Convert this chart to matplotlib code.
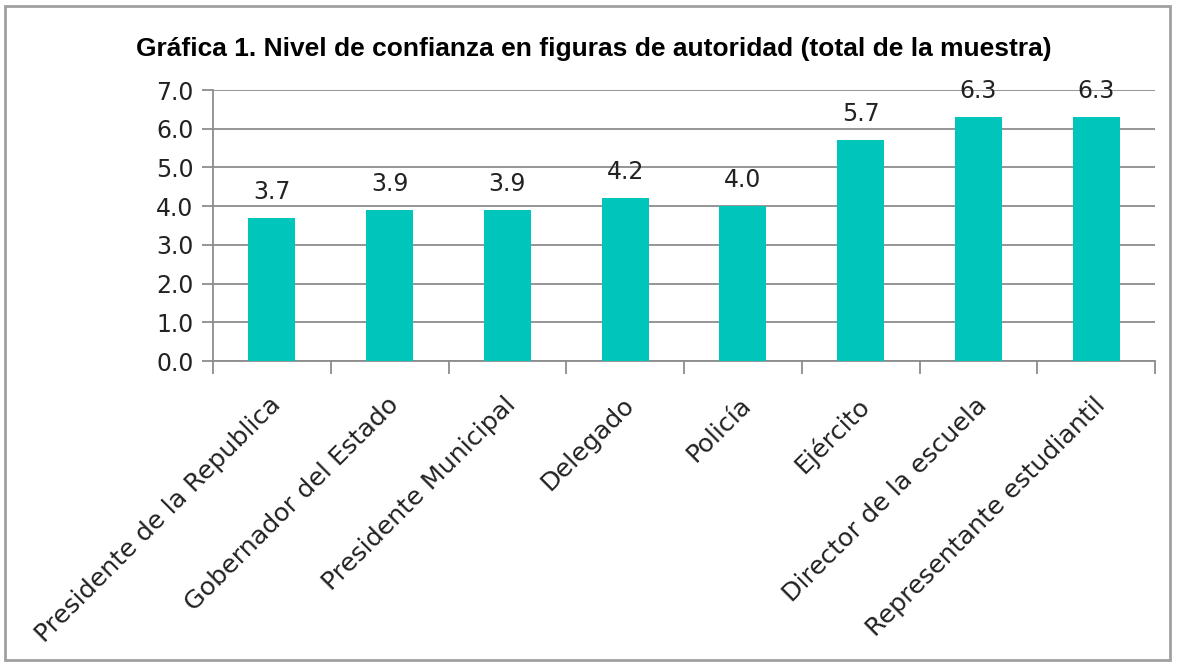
import matplotlib.pyplot as plt
from matplotlib.patches import Rectangle
import numpy as np

# datos de la grafica
categorias = ['Presidente de la Republica', 'Gobernador del Estado', 'Presidente Municipal',
              'Delegado', 'Policía', 'Ejército', 'Director de la escuela',
              'Representante estudiantil']
valores = [3.7, 3.9, 3.9, 4.2, 4.0, 5.7, 6.3, 6.3]
yticks = [0, 1, 2, 3, 4, 5, 6, 7]
titulo = 'Gráfica 1. Nivel de confianza en figuras de autoridad (total de la muestra)'

fuente = ['DejaVu Sans']
color_barra = '#00C5BA'
gris = '#8C8C8C'
texto = '#222222'

fig = plt.figure(figsize=(11.77, 6.66), dpi=100)
ax = fig.add_axes([213/1177, 1 - 361/666, (1155-213)/1177, (361-90)/666])

x = np.arange(len(categorias))
ax.bar(x, valores, width=0.4, color=color_barra, zorder=3)

for xi, v in zip(x, valores):
    ax.text(xi, v + 0.36, f'{v:.1f}', ha='center', va='bottom', fontsize=17,
            family=fuente, color=texto, zorder=4)

ax.set_xlim(-0.5, len(categorias) - 0.5)
ax.set_ylim(0, 7)
ax.set_yticks(yticks)
ax.set_yticklabels([f'{t:.1f}' for t in yticks], fontsize=17, family=fuente, color=texto)
ax.yaxis.grid(True, color=gris, linewidth=1.3, zorder=0)

# ticks del eje x en los limites de categoria
ax.set_xticks(np.arange(-0.5, len(categorias), 1.0))
ax.set_xticklabels([])
ax.set_xticks(x - 0.03, minor=True)
ax.set_xticklabels(categorias, minor=True, rotation=45, ha='right', va='top',
                   rotation_mode='anchor', fontsize=18.3, family=fuente, color=texto)
ax.tick_params(axis='x', which='minor', length=0, pad=23)
ax.tick_params(axis='x', which='major', length=9, color=gris, width=1.3)
ax.tick_params(axis='y', length=8, color=gris, width=1.3, pad=6)

for s in ['top', 'right']:
    ax.spines[s].set_visible(False)
for s in ['left', 'bottom']:
    ax.spines[s].set_color(gris)
    ax.spines[s].set_linewidth(1.3)

fig.text(594/1177, 1 - 49/666, titulo, ha='center', va='center', fontsize=19,
         fontweight='bold', family=['Liberation Sans', 'DejaVu Sans'])

# marco de la figura
fig.patches.append(Rectangle((5/1177, 6/666), 1165/1177, 654/666, transform=fig.transFigure,
                             fill=False, edgecolor='#A0A0A0', linewidth=2))

fig.savefig('out.png', dpi=100)
